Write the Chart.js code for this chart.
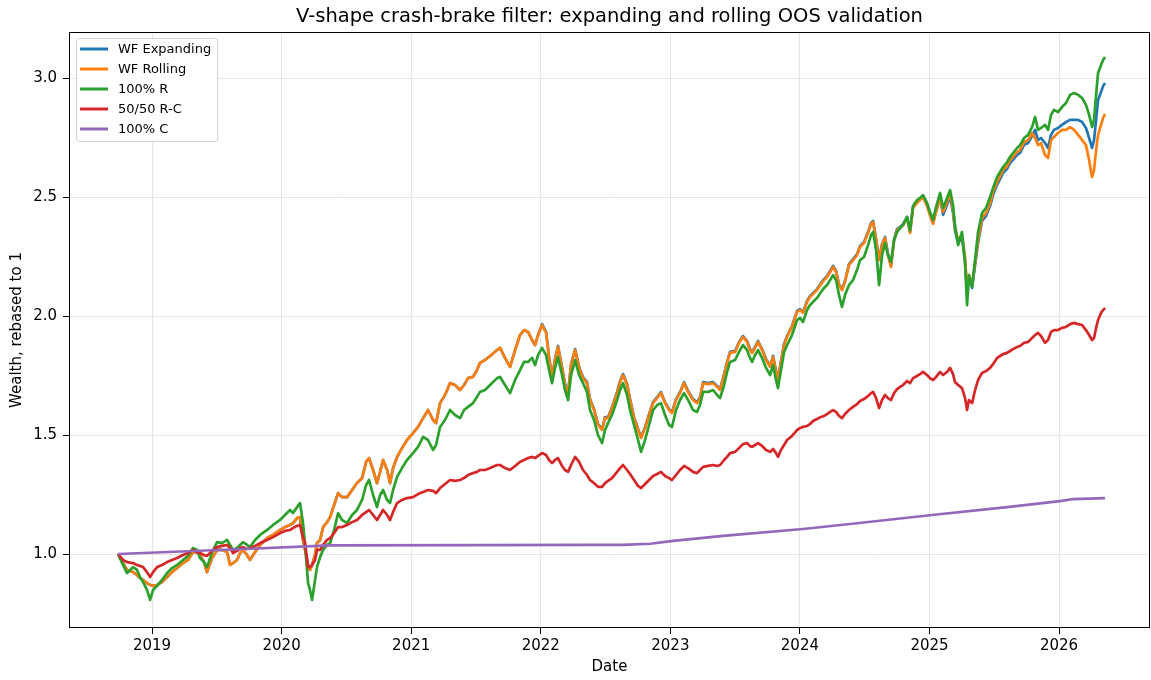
<!DOCTYPE html>
<html>
<head>
<meta charset="utf-8">
<title>V-shape crash-brake filter</title>
<script src="https://cdn.jsdelivr.net/npm/chart.js@4.4.1/dist/chart.umd.min.js"></script>
<style>
  html, body { margin: 0; padding: 0; background: #fff; }
  #wrap { width: 1151px; height: 680px; }
</style>
</head>
<body>
<div id="wrap"><canvas id="wealthChart" width="1151" height="680"></canvas></div>
<script>
// values: dates as decimal years, wealth rebased to 1
var dates = [
  2018.738, 2018.776, 2018.807, 2018.853, 2018.884, 2018.907, 2018.931, 2018.961, 2018.985, 2019.008,
  2019.039, 2019.077, 2019.116, 2019.154, 2019.193, 2019.239, 2019.278, 2019.316, 2019.347, 2019.370,
  2019.401, 2019.424, 2019.463, 2019.502, 2019.540, 2019.579, 2019.602, 2019.625, 2019.656, 2019.679,
  2019.702, 2019.733, 2019.756, 2019.795, 2019.834, 2019.888, 2019.934, 2019.988, 2020.026, 2020.065,
  2020.088, 2020.119, 2020.142, 2020.165, 2020.181, 2020.204, 2020.219, 2020.235, 2020.258, 2020.273,
  2020.297, 2020.320, 2020.351, 2020.374, 2020.405, 2020.436, 2020.466, 2020.505, 2020.544, 2020.582,
  2020.621, 2020.652, 2020.675, 2020.706, 2020.736, 2020.760, 2020.783, 2020.814, 2020.837, 2020.860,
  2020.891, 2020.929, 2020.968, 2021.014, 2021.053, 2021.092, 2021.130, 2021.169, 2021.192, 2021.223,
  2021.261, 2021.300, 2021.338, 2021.377, 2021.408, 2021.439, 2021.477, 2021.508, 2021.531, 2021.570,
  2021.609, 2021.663, 2021.686, 2021.724, 2021.763, 2021.802, 2021.840, 2021.871, 2021.902, 2021.933,
  2021.956, 2021.979, 2022.010, 2022.041, 2022.064, 2022.087, 2022.110, 2022.133, 2022.164, 2022.187,
  2022.211, 2022.234, 2022.265, 2022.296, 2022.326, 2022.357, 2022.380, 2022.411, 2022.442, 2022.473,
  2022.496, 2022.519, 2022.550, 2022.589, 2022.612, 2022.635, 2022.666, 2022.689, 2022.720, 2022.751,
  2022.774, 2022.805, 2022.836, 2022.867, 2022.898, 2022.928, 2022.959, 2022.990, 2023.013, 2023.044,
  2023.075, 2023.106, 2023.137, 2023.175, 2023.206, 2023.229, 2023.253, 2023.291, 2023.330, 2023.361,
  2023.384, 2023.415, 2023.438, 2023.461, 2023.500, 2023.530, 2023.561, 2023.592, 2023.615, 2023.631,
  2023.654, 2023.677, 2023.708, 2023.739, 2023.770, 2023.793, 2023.816, 2023.831, 2023.854, 2023.878,
  2023.901, 2023.939, 2023.978, 2024.001, 2024.024, 2024.055, 2024.078, 2024.101, 2024.132, 2024.163,
  2024.186, 2024.210, 2024.233, 2024.256, 2024.279, 2024.302, 2024.325, 2024.348, 2024.379, 2024.410,
  2024.441, 2024.464, 2024.495, 2024.526, 2024.549, 2024.565, 2024.588, 2024.611, 2024.634, 2024.657,
  2024.680, 2024.703, 2024.727, 2024.750, 2024.773, 2024.796, 2024.827, 2024.850, 2024.873, 2024.904,
  2024.927, 2024.950, 2024.981, 2025.004, 2025.027, 2025.051, 2025.082, 2025.105, 2025.136, 2025.159,
  2025.182, 2025.197, 2025.221, 2025.251, 2025.275, 2025.290, 2025.305, 2025.329, 2025.352, 2025.375,
  2025.406, 2025.437, 2025.468, 2025.491, 2025.522, 2025.545, 2025.568, 2025.599, 2025.622, 2025.645,
  2025.676, 2025.699, 2025.730, 2025.761, 2025.792, 2025.815, 2025.838, 2025.861, 2025.892, 2025.915,
  2025.938, 2025.961, 2025.992, 2026.023, 2026.054, 2026.085, 2026.116, 2026.147, 2026.178, 2026.208,
  2026.232, 2026.255, 2026.270, 2026.286, 2026.301, 2026.324, 2026.340, 2026.355
];

var wfExpanding = [
  1.000, 0.962, 0.933, 0.924, 0.912, 0.899, 0.891, 0.878, 0.870, 0.866,
  0.870, 0.882, 0.903, 0.924, 0.941, 0.962, 0.975, 1.008, 1.008, 0.996,
  0.966, 0.924, 0.983, 1.017, 1.017, 1.008, 0.954, 0.962, 0.975, 1.004,
  1.017, 0.996, 0.975, 1.008, 1.038, 1.067, 1.080, 1.101, 1.113, 1.122,
  1.130, 1.151, 1.155, 1.059, 1.017, 0.954, 0.933, 0.954, 0.996, 1.046,
  1.059, 1.113, 1.134, 1.155, 1.206, 1.256, 1.239, 1.239, 1.269, 1.298,
  1.319, 1.387, 1.403, 1.353, 1.298, 1.345, 1.395, 1.353, 1.298, 1.361,
  1.408, 1.445, 1.479, 1.508, 1.534, 1.571, 1.605, 1.563, 1.550, 1.634,
  1.668, 1.718, 1.710, 1.689, 1.710, 1.739, 1.744, 1.773, 1.803, 1.815,
  1.832, 1.857, 1.866, 1.824, 1.786, 1.857, 1.920, 1.941, 1.933, 1.899,
  1.878, 1.920, 1.966, 1.933, 1.828, 1.743, 1.819, 1.874, 1.786, 1.714,
  1.680, 1.798, 1.861, 1.786, 1.743, 1.722, 1.651, 1.609, 1.546, 1.525,
  1.575, 1.575, 1.617, 1.680, 1.727, 1.756, 1.714, 1.651, 1.575, 1.525,
  1.491, 1.533, 1.588, 1.638, 1.659, 1.680, 1.638, 1.609, 1.596, 1.651,
  1.680, 1.722, 1.685, 1.651, 1.638, 1.659, 1.722, 1.718, 1.722, 1.706,
  1.693, 1.756, 1.807, 1.849, 1.853, 1.891, 1.916, 1.895, 1.861, 1.849,
  1.870, 1.895, 1.861, 1.819, 1.790, 1.832, 1.769, 1.735, 1.811, 1.882,
  1.916, 1.958, 2.021, 2.029, 2.017, 2.063, 2.084, 2.096, 2.113, 2.138,
  2.155, 2.168, 2.189, 2.210, 2.189, 2.134, 2.113, 2.147, 2.218, 2.239,
  2.260, 2.294, 2.311, 2.353, 2.391, 2.399, 2.323, 2.239, 2.302, 2.332,
  2.260, 2.210, 2.323, 2.365, 2.374, 2.386, 2.416, 2.353, 2.458, 2.479,
  2.491, 2.504, 2.466, 2.428, 2.391, 2.441, 2.500, 2.425, 2.467, 2.501,
  2.433, 2.358, 2.307, 2.328, 2.232, 2.097, 2.160, 2.118, 2.215, 2.307,
  2.400, 2.421, 2.463, 2.509, 2.551, 2.576, 2.601, 2.618, 2.643, 2.656,
  2.677, 2.685, 2.719, 2.727, 2.757, 2.782, 2.739, 2.748, 2.727, 2.706,
  2.761, 2.782, 2.790, 2.803, 2.815, 2.824, 2.824, 2.824, 2.815, 2.790,
  2.748, 2.706, 2.739, 2.824, 2.908, 2.941, 2.966, 2.979
];

var wfRolling = [
  1.000, 0.962, 0.933, 0.924, 0.912, 0.899, 0.891, 0.878, 0.870, 0.866,
  0.870, 0.882, 0.903, 0.924, 0.941, 0.962, 0.975, 1.008, 1.008, 0.996,
  0.966, 0.924, 0.983, 1.017, 1.017, 1.008, 0.954, 0.962, 0.975, 1.004,
  1.017, 0.996, 0.975, 1.008, 1.038, 1.067, 1.080, 1.101, 1.113, 1.122,
  1.130, 1.151, 1.155, 1.059, 1.017, 0.954, 0.933, 0.954, 0.996, 1.046,
  1.059, 1.113, 1.134, 1.155, 1.206, 1.256, 1.239, 1.239, 1.269, 1.298,
  1.319, 1.387, 1.403, 1.353, 1.298, 1.345, 1.395, 1.353, 1.298, 1.361,
  1.408, 1.445, 1.479, 1.508, 1.534, 1.571, 1.605, 1.563, 1.550, 1.634,
  1.668, 1.718, 1.710, 1.689, 1.710, 1.739, 1.744, 1.773, 1.803, 1.815,
  1.832, 1.857, 1.866, 1.824, 1.786, 1.857, 1.920, 1.941, 1.933, 1.899,
  1.878, 1.920, 1.962, 1.929, 1.824, 1.739, 1.815, 1.870, 1.782, 1.710,
  1.676, 1.794, 1.857, 1.782, 1.739, 1.718, 1.647, 1.605, 1.542, 1.521,
  1.571, 1.571, 1.613, 1.676, 1.723, 1.752, 1.710, 1.647, 1.571, 1.521,
  1.487, 1.529, 1.584, 1.634, 1.655, 1.676, 1.634, 1.605, 1.592, 1.647,
  1.676, 1.718, 1.681, 1.647, 1.634, 1.655, 1.718, 1.714, 1.718, 1.702,
  1.689, 1.752, 1.803, 1.845, 1.849, 1.887, 1.912, 1.891, 1.857, 1.845,
  1.866, 1.891, 1.857, 1.815, 1.786, 1.828, 1.765, 1.731, 1.807, 1.878,
  1.912, 1.954, 2.017, 2.025, 2.013, 2.059, 2.080, 2.092, 2.109, 2.134,
  2.151, 2.164, 2.185, 2.206, 2.185, 2.130, 2.109, 2.143, 2.214, 2.235,
  2.256, 2.290, 2.307, 2.349, 2.387, 2.395, 2.319, 2.235, 2.298, 2.328,
  2.256, 2.206, 2.319, 2.361, 2.370, 2.382, 2.412, 2.349, 2.454, 2.475,
  2.487, 2.500, 2.462, 2.424, 2.387, 2.437, 2.496, 2.437, 2.479, 2.513,
  2.445, 2.370, 2.319, 2.340, 2.244, 2.109, 2.172, 2.130, 2.227, 2.319,
  2.412, 2.433, 2.475, 2.521, 2.563, 2.588, 2.613, 2.630, 2.655, 2.668,
  2.689, 2.697, 2.731, 2.739, 2.769, 2.748, 2.718, 2.727, 2.676, 2.664,
  2.739, 2.752, 2.769, 2.782, 2.782, 2.794, 2.782, 2.761, 2.739, 2.718,
  2.655, 2.584, 2.613, 2.697, 2.761, 2.803, 2.832, 2.849
];

var allR = [
  1.000, 0.954, 0.920, 0.945, 0.933, 0.903, 0.882, 0.849, 0.807, 0.849,
  0.866, 0.891, 0.920, 0.941, 0.954, 0.975, 0.992, 1.025, 1.017, 0.983,
  0.966, 0.945, 1.008, 1.050, 1.046, 1.059, 1.038, 1.017, 1.025, 1.038,
  1.050, 1.038, 1.029, 1.059, 1.080, 1.101, 1.122, 1.143, 1.164, 1.185,
  1.172, 1.197, 1.214, 1.130, 1.038, 0.878, 0.849, 0.807, 0.891, 0.945,
  0.987, 1.017, 1.038, 1.046, 1.101, 1.172, 1.143, 1.130, 1.164, 1.185,
  1.227, 1.290, 1.311, 1.248, 1.197, 1.248, 1.269, 1.227, 1.214, 1.269,
  1.324, 1.361, 1.395, 1.424, 1.450, 1.492, 1.479, 1.437, 1.458, 1.534,
  1.563, 1.605, 1.584, 1.571, 1.605, 1.618, 1.634, 1.660, 1.681, 1.689,
  1.710, 1.739, 1.744, 1.710, 1.676, 1.731, 1.773, 1.807, 1.807, 1.824,
  1.794, 1.836, 1.866, 1.836, 1.773, 1.718, 1.782, 1.828, 1.752, 1.689,
  1.647, 1.752, 1.815, 1.752, 1.718, 1.681, 1.605, 1.563, 1.500, 1.466,
  1.521, 1.550, 1.584, 1.647, 1.689, 1.718, 1.668, 1.605, 1.542, 1.479,
  1.429, 1.479, 1.542, 1.605, 1.626, 1.634, 1.584, 1.542, 1.534, 1.605,
  1.647, 1.676, 1.647, 1.605, 1.597, 1.626, 1.681, 1.681, 1.689, 1.668,
  1.655, 1.710, 1.765, 1.807, 1.815, 1.849, 1.878, 1.857, 1.824, 1.807,
  1.836, 1.857, 1.824, 1.782, 1.752, 1.794, 1.731, 1.697, 1.773, 1.849,
  1.878, 1.920, 1.983, 1.992, 1.975, 2.025, 2.046, 2.059, 2.076, 2.101,
  2.118, 2.130, 2.151, 2.172, 2.151, 2.088, 2.038, 2.088, 2.130, 2.151,
  2.193, 2.235, 2.248, 2.298, 2.340, 2.353, 2.277, 2.130, 2.256, 2.307,
  2.256, 2.227, 2.319, 2.353, 2.370, 2.382, 2.416, 2.361, 2.462, 2.487,
  2.496, 2.508, 2.475, 2.437, 2.403, 2.458, 2.517, 2.454, 2.496, 2.529,
  2.466, 2.382, 2.298, 2.353, 2.214, 2.046, 2.172, 2.122, 2.235, 2.353,
  2.433, 2.454, 2.500, 2.538, 2.584, 2.605, 2.626, 2.647, 2.668, 2.685,
  2.706, 2.718, 2.748, 2.761, 2.794, 2.836, 2.782, 2.790, 2.803, 2.782,
  2.845, 2.866, 2.857, 2.878, 2.895, 2.929, 2.937, 2.929, 2.916, 2.887,
  2.845, 2.794, 2.824, 2.929, 3.021, 3.055, 3.076, 3.088
];

var halfRC = [
  1.000, 0.975, 0.966, 0.962, 0.954, 0.950, 0.945, 0.924, 0.903, 0.924,
  0.945, 0.954, 0.966, 0.975, 0.983, 0.996, 1.004, 1.017, 1.008, 1.004,
  0.996, 0.992, 1.013, 1.029, 1.034, 1.038, 1.025, 1.004, 1.013, 1.025,
  1.029, 1.021, 1.025, 1.034, 1.046, 1.059, 1.071, 1.088, 1.097, 1.101,
  1.109, 1.118, 1.122, 1.071, 1.046, 0.945, 0.945, 0.954, 0.975, 1.017,
  1.017, 1.038, 1.059, 1.067, 1.088, 1.113, 1.113, 1.122, 1.134, 1.143,
  1.164, 1.176, 1.185, 1.164, 1.143, 1.164, 1.185, 1.164, 1.143, 1.176,
  1.214, 1.227, 1.235, 1.239, 1.252, 1.261, 1.269, 1.265, 1.256, 1.277,
  1.294, 1.311, 1.307, 1.311, 1.319, 1.332, 1.340, 1.345, 1.353, 1.353,
  1.361, 1.374, 1.374, 1.361, 1.353, 1.370, 1.387, 1.395, 1.403, 1.408,
  1.403, 1.412, 1.424, 1.416, 1.395, 1.382, 1.395, 1.403, 1.370, 1.353,
  1.345, 1.374, 1.408, 1.387, 1.353, 1.332, 1.311, 1.298, 1.282, 1.282,
  1.298, 1.307, 1.319, 1.345, 1.361, 1.374, 1.353, 1.336, 1.311, 1.286,
  1.277, 1.294, 1.311, 1.328, 1.336, 1.345, 1.328, 1.319, 1.311, 1.332,
  1.353, 1.370, 1.361, 1.345, 1.340, 1.353, 1.366, 1.370, 1.374, 1.370,
  1.374, 1.395, 1.408, 1.424, 1.429, 1.445, 1.462, 1.466, 1.454, 1.450,
  1.458, 1.466, 1.454, 1.437, 1.429, 1.441, 1.424, 1.408, 1.437, 1.458,
  1.479, 1.496, 1.521, 1.529, 1.534, 1.538, 1.546, 1.559, 1.567, 1.576,
  1.580, 1.588, 1.597, 1.605, 1.597, 1.580, 1.571, 1.588, 1.605, 1.618,
  1.630, 1.643, 1.651, 1.664, 1.676, 1.681, 1.655, 1.613, 1.647, 1.668,
  1.655, 1.647, 1.676, 1.693, 1.702, 1.710, 1.727, 1.718, 1.739, 1.748,
  1.756, 1.765, 1.752, 1.739, 1.731, 1.744, 1.765, 1.752, 1.765, 1.782,
  1.756, 1.723, 1.710, 1.697, 1.655, 1.605, 1.647, 1.634, 1.689, 1.731,
  1.761, 1.769, 1.782, 1.798, 1.824, 1.832, 1.840, 1.845, 1.853, 1.861,
  1.870, 1.874, 1.887, 1.891, 1.908, 1.920, 1.929, 1.916, 1.887, 1.899,
  1.933, 1.941, 1.941, 1.950, 1.954, 1.966, 1.971, 1.966, 1.962, 1.941,
  1.920, 1.899, 1.908, 1.950, 1.983, 2.013, 2.025, 2.034
];

// 100% C is a smooth line, so it only needs a few readings of its own
var cashDates = [2018.738, 2019.756, 2020.374, 2021.531, 2022.380, 2022.635, 2022.844, 2023.021,
  2023.407, 2024.024, 2024.387, 2025.020, 2025.599, 2026.023, 2026.108, 2026.355];
var allC = [1.000, 1.022, 1.036, 1.037, 1.038, 1.038, 1.043, 1.055,
  1.076, 1.105, 1.126, 1.164, 1.197, 1.223, 1.231, 1.235];

var seriesNames = ['WF Expanding', 'WF Rolling', '100% R', '50/50 R-C', '100% C'];
var seriesColors = ['#1f77b4', '#ff7f0e', '#2ca02c', '#d62728', '#9467bd'];

function toPoints(xs, ys) {
  return xs.map(function (x, i) { return { x: x, y: ys[i] }; });
}

// matplotlib style legend: white box in the upper left corner of the plot
var innerLegend = {
  id: 'innerLegend',
  afterDatasetsDraw: function (chart) {
    var ctx = chart.ctx;
    var area = chart.chartArea;
    var sets = chart.data.datasets;
    ctx.save();
    ctx.font = '13px "DejaVu Sans"';
    var textW = 0;
    sets.forEach(function (ds) { textW = Math.max(textW, ctx.measureText(ds.label).width); });
    var x0 = area.left + 7, y0 = area.top + 6;
    var w = 42 + textW + 6, h = 20 * sets.length + 3;
    ctx.beginPath();
    ctx.roundRect(x0 + 0.5, y0 + 0.5, w, h, 3);
    ctx.fillStyle = 'rgba(255,255,255,0.85)';
    ctx.fill();
    ctx.strokeStyle = '#d0d0d0';
    ctx.lineWidth = 1;
    ctx.stroke();
    ctx.textBaseline = 'middle';
    sets.forEach(function (ds, i) {
      var y = y0 + 11 + 20 * i;
      ctx.beginPath();
      ctx.moveTo(x0 + 4, y);
      ctx.lineTo(x0 + 32, y);
      ctx.strokeStyle = ds.borderColor;
      ctx.lineWidth = 3;
      ctx.stroke();
      ctx.fillStyle = '#000';
      ctx.fillText(ds.label, x0 + 42, y + 1);
    });
    ctx.restore();
  }
};

// four black spines round the plot
var frame = {
  id: 'frame',
  afterDraw: function (chart) {
    var a = chart.chartArea, ctx = chart.ctx;
    ctx.save();
    ctx.strokeStyle = '#000';
    ctx.lineWidth = 1;
    ctx.strokeRect(Math.round(a.left) + 0.5, Math.round(a.top) + 0.5,
      Math.round(a.right - a.left) - 1, Math.round(a.bottom - a.top) - 1);
    ctx.restore();
  }
};

Chart.defaults.font.family = '"DejaVu Sans", sans-serif';
Chart.defaults.color = '#000';

var valueSets = [wfExpanding, wfRolling, allR, halfRC];
var datasets = valueSets.map(function (vals, i) {
  return {
    label: seriesNames[i],
    data: toPoints(dates, vals),
    borderColor: seriesColors[i],
    backgroundColor: seriesColors[i],
    borderWidth: 2.7,
    borderJoinStyle: 'round',
    pointRadius: 0,
    tension: 0,
    order: 5 - i
  };
});
datasets.push({
  label: seriesNames[4],
  data: toPoints(cashDates, allC),
  borderColor: seriesColors[4],
  backgroundColor: seriesColors[4],
  borderWidth: 2.7,
  pointRadius: 0,
  tension: 0,
  order: 1
});

var ctx = document.getElementById('wealthChart').getContext('2d');
var wealthChart = new Chart(ctx, {
  type: 'line',
  data: { datasets: datasets },
  options: {
    responsive: false,
    devicePixelRatio: 1,
    animation: false,
    events: [],
    layout: { padding: { left: 0, right: 1, top: 0, bottom: 0 } },
    plugins: {
      legend: { display: false },
      tooltip: { enabled: false },
      title: {
        display: true,
        fullSize: false,
        text: 'V-shape crash-brake filter: expanding and rolling OOS validation',
        font: { size: 19.5, weight: 'normal', lineHeight: 1.2 },
        color: '#000',
        padding: { top: 5, bottom: 3.6 }
      }
    },
    scales: {
      x: {
        type: 'linear',
        min: 2018.359,
        max: 2026.702,
        afterFit: function (scale) { scale.height = 52; },
        border: { display: false },
        grid: { color: '#e6e6e6', tickColor: '#000', tickLength: 6, tickWidth: 1 },
        ticks: {
          stepSize: 1,
          includeBounds: false,
          autoSkip: false,
          maxRotation: 0,
          padding: 3,
          font: { size: 15 },
          callback: function (v) { return Number.isInteger(v) ? String(v) : ''; }
        },
        title: { display: true, text: 'Date', font: { size: 15 }, padding: { top: 0, bottom: 4 } }
      },
      y: {
        type: 'linear',
        min: 0.6891,
        max: 3.1933,
        afterFit: function (scale) { scale.width = 69; },
        border: { display: false },
        grid: { color: '#e6e6e6', tickColor: '#000', tickLength: 6, tickWidth: 1 },
        ticks: {
          stepSize: 0.5,
          includeBounds: false,
          padding: 6,
          font: { size: 15 },
          callback: function (v) { return v.toFixed(1); }
        },
        title: { display: true, text: 'Wealth, rebased to 1', font: { size: 15 }, padding: { top: 8, bottom: 0 } }
      }
    }
  },
  plugins: [innerLegend, frame]
});
</script>
</body>
</html>
